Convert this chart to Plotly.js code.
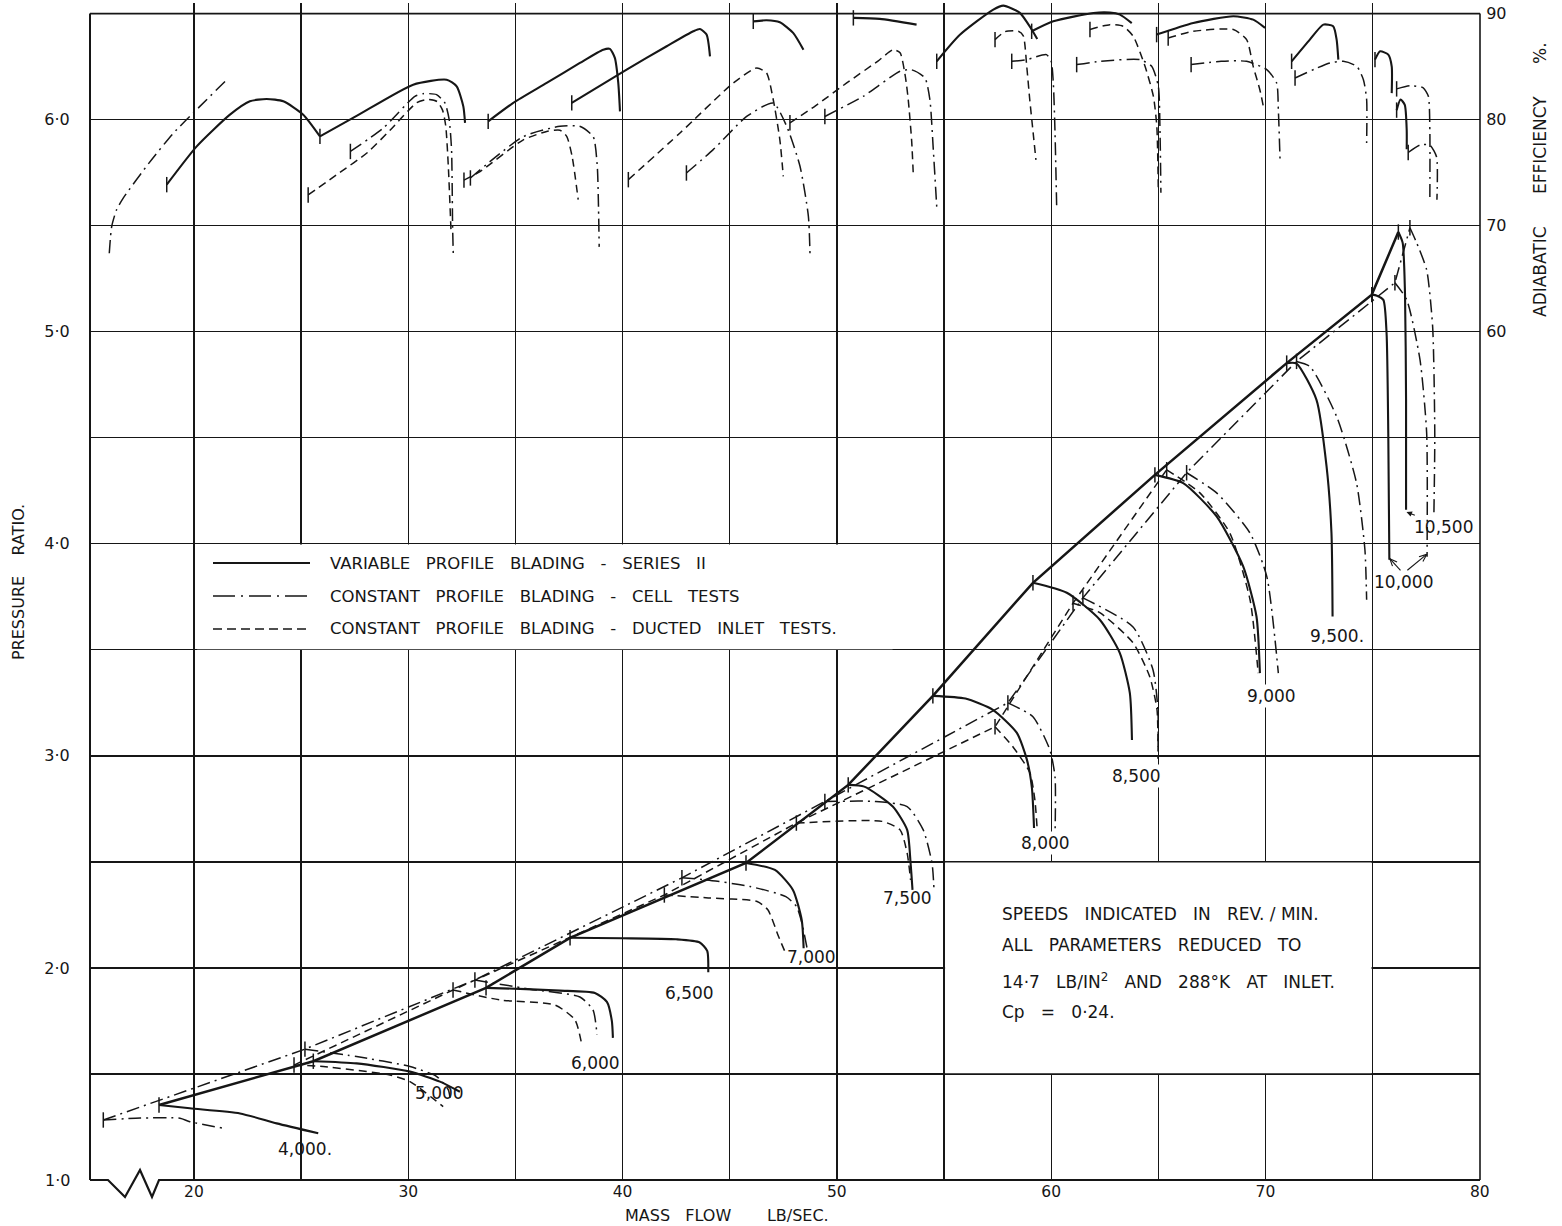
<!DOCTYPE html>
<html><head><meta charset="utf-8">
<script src="https://cdn.plot.ly/plotly-3.0.1.min.js"></script>
<style>html,body{margin:0;padding:0;background:#fff}#chart{width:1562px;height:1226px}</style>
</head><body><div id="chart"></div>
<script>
// ===== DATA: pressure-ratio lines [mass flow lb/sec, pressure ratio] =====
// Variable profile blading - Series II (solid)
const VP_SURGE = [[18.37,1.354],[25.57,1.56],[33.63,1.906],[37.55,2.142],[45.76,2.495],[50.53,2.863],[54.48,3.283],[59.15,3.816],[64.84,4.325],[70.99,4.852],[74.96,5.175],[76.2,5.47]];
const VP_PR_4000 = [[18.37,1.354],[19.81,1.338],[22.15,1.314],[23.86,1.267],[25.8,1.22]];
const VP_PR_5000 = [[25.57,1.56],[27.59,1.55],[30.08,1.511],[31.48,1.464],[32.41,1.416]];
const VP_PR_6000 = [[33.63,1.906],[35.5,1.9],[37.08,1.893],[38.71,1.882],[39.27,1.84],[39.5,1.75],[39.55,1.67]];
const VP_PR_6500 = [[37.55,2.142],[40.0,2.14],[42.5,2.135],[43.6,2.12],[43.95,2.08],[44.0,1.98]];
const VP_PR_7000 = [[45.76,2.495],[47.11,2.462],[47.95,2.368],[48.36,2.226],[48.45,2.093]];
const VP_PR_7500 = [[50.53,2.863],[51.28,2.855],[52.61,2.761],[53.28,2.651],[53.44,2.494],[53.53,2.368]];
const VP_PR_8000 = [[54.48,3.283],[56.0,3.27],[57.28,3.217],[58.4,3.108],[58.87,2.981],[59.1,2.85],[59.2,2.66]];
const VP_PR_8500 = [[59.15,3.816],[60.73,3.769],[62.27,3.642],[63.2,3.486],[63.67,3.297],[63.77,3.075]];
const VP_PR_9000 = [[64.84,4.325],[66.16,4.286],[67.72,4.129],[68.96,3.893],[69.58,3.657],[69.74,3.39]];
const VP_PR_9500 = [[70.99,4.852],[71.45,4.85],[72.38,4.679],[72.85,4.365],[73.08,4.05],[73.13,3.657]];
const VP_PR_10000 = [[74.96,5.175],[75.2,5.17],[75.5,5.15],[75.65,4.994],[75.73,4.52],[75.78,3.925]];
const VP_PR_10500 = [[76.2,5.47],[76.4,5.42],[76.51,5.183],[76.56,4.68],[76.56,4.16]];

// Constant profile blading - cell tests (dash-dot)
const CC_SURGE = [[15.77,1.283],[25.18,1.617],[33.11,1.943],[42.77,2.425],[49.44,2.785],[57.98,3.25],[61.48,3.745],[66.32,4.335],[71.45,4.86],[76.04,5.231],[76.74,5.49]];
const CC_PR_4000 = [[15.77,1.283],[17.5,1.292],[19.35,1.291],[19.81,1.275],[21.37,1.244]];
const CC_PR_5000 = [[25.18,1.617],[27.59,1.582],[30.08,1.535],[31.33,1.488],[31.87,1.425],[31.95,1.387]];
const CC_PR_6000 = [[33.11,1.943],[35.68,1.9],[38.01,1.863],[38.62,1.802],[38.81,1.684]];
const CC_PR_7000 = [[42.77,2.425],[43.94,2.415],[45.95,2.384],[47.62,2.336],[48.12,2.289],[48.37,2.211],[48.61,2.093]];
const CC_PR_7500 = [[49.44,2.785],[51.78,2.785],[53.28,2.761],[54.03,2.651],[54.44,2.494],[54.53,2.376]];
const CC_PR_8000 = [[57.98,3.25],[59.15,3.184],[59.94,3.028],[60.18,2.9],[60.18,2.627]];
const CC_PR_8500 = [[61.48,3.745],[63.82,3.608],[64.75,3.406],[64.98,3.217],[64.98,2.98]];
const CC_PR_9000 = [[66.32,4.335],[67.72,4.24],[69.28,4.05],[70.06,3.846],[70.6,3.39]];
const CC_PR_9500 = [[71.45,4.86],[72.07,4.836],[73.32,4.6],[74.25,4.286],[74.64,3.972],[74.72,3.736]];
const CC_PR_10000 = [[76.04,5.231],[76.59,5.151],[77.21,4.868],[77.52,4.524],[77.54,3.939]];
const CC_PR_10500 = [[76.74,5.49],[77.05,5.42],[77.52,5.292],[77.8,5.024],[77.9,4.52],[77.86,4.146]];

// Constant profile blading - ducted inlet tests (dashed)
const CD_SURGE = [[24.67,1.542],[32.09,1.896],[41.95,2.344],[48.11,2.683],[57.38,3.137],[61.02,3.72],[65.39,4.349]];
const CD_PR_5000 = [[24.67,1.542],[26.03,1.535],[29.15,1.495],[30.08,1.464],[31.63,1.346]];
const CD_PR_6000 = [[32.09,1.896],[34.28,1.849],[36.85,1.825],[37.78,1.755],[38.1,1.637]];
const CD_PR_7000 = [[41.95,2.344],[44.0,2.33],[46.28,2.313],[46.78,2.274],[47.28,2.148],[47.61,2.069]];
const CD_PR_7500 = [[48.11,2.683],[52.11,2.691],[52.95,2.651],[53.28,2.541],[53.44,2.415]];
const CD_PR_8000 = [[57.38,3.137],[58.22,3.042],[59.01,2.92],[59.24,2.792],[59.34,2.665]];
const CD_PR_8500 = [[61.02,3.72],[62.27,3.675],[63.82,3.533],[64.6,3.373],[64.94,3.217],[64.98,3.042]];
const CD_PR_9000 = [[65.39,4.349],[66.94,4.24],[68.34,4.05],[69.28,3.736],[69.66,3.39]];

// ===== DATA: adiabatic efficiency [mass flow lb/sec, efficiency %] =====
const VP_EF_4000 = [[18.73,73.87],[20.13,77.48],[21.68,80.47],[22.61,81.73],[23.39,81.95],[24.17,81.73],[25.1,80.47],[25.88,78.42]];
const VP_EF_5000 = [[25.88,78.42],[27.59,80.35],[30.23,83.3],[31.79,83.77],[32.26,83.14],[32.57,81.25],[32.65,79.7]];
const VP_EF_6000 = [[33.73,79.84],[34.9,81.58],[36.46,83.46],[38.01,85.35],[39.1,86.6],[39.41,86.67],[39.64,85.82],[39.8,83.46],[39.88,80.78]];
const VP_EF_6500 = [[37.63,81.58],[40.19,84.72],[42.06,86.92],[43.3,88.33],[43.61,88.55],[43.92,88.02],[44.08,85.97]];
const VP_EF_7000 = [[46.1,89.27],[46.72,89.37],[47.34,89.18],[47.96,88.18],[48.44,86.6]];
const VP_EF_7500 = [[50.77,89.6],[52.0,89.5],[53.72,88.96]];
const VP_EF_8000 = [[54.66,85.5],[55.74,88.0],[57.3,90.38],[57.77,90.75],[58.54,90.07],[59.09,88.5],[59.35,87.6]];
const VP_EF_8500 = [[59.09,88.33],[60.1,89.27],[61.97,90.06],[62.74,90.1],[63.21,89.9],[63.76,89.1]];
const VP_EF_9000 = [[64.92,88.02],[66.63,89.12],[68.5,89.75],[69.43,89.43],[69.98,88.65]];
const VP_EF_9500 = [[71.22,85.5],[72.07,87.55],[72.7,88.96],[73.16,88.8],[73.32,87.55],[73.4,85.66]];
const VP_EF_10000 = [[75.11,85.66],[75.35,86.44],[75.73,86.13],[75.89,85.03],[75.89,82.5]];
const VP_EF_10500 = [[76.12,80.9],[76.3,81.9],[76.5,81.4],[76.59,79.0],[76.59,77.2]];

const CC_EF_4000 = [[16.05,67.4],[16.16,69.9],[16.39,71.5],[16.7,72.6],[17.9,75.9],[19.03,78.7],[20.3,81.3],[21.45,83.6]];
const CC_EF_5000 = [[27.3,77.0],[28.83,79.2],[30.31,82.2],[30.7,82.45],[31.32,82.36],[31.71,81.57],[31.91,80.0],[32.02,77.17],[32.07,69.93],[32.1,67.4]];
const CC_EF_6000 = [[32.9,74.5],[35.37,78.4],[37.08,79.37],[38.0,79.37],[38.63,78.4],[38.82,75.6],[38.87,72.45],[38.91,68.0]];
const CC_EF_7000 = [[42.98,74.97],[44.23,77.17],[45.79,80.3],[47.03,81.57],[47.66,79.37],[48.28,75.6],[48.67,70.9],[48.75,67.1]];
const CC_EF_7500 = [[49.44,80.3],[51.23,82.2],[52.95,84.56],[53.49,84.7],[54.11,83.93],[54.34,81.9],[54.5,77.17],[54.66,71.8]];
const CC_EF_8000 = [[58.16,85.5],[58.86,85.66],[59.78,86.13],[60.0,85.5],[60.1,83.46],[60.18,78.74],[60.26,71.5]];
const CC_EF_8500 = [[61.19,85.19],[62.27,85.5],[64.14,85.66],[64.69,85.03],[65.0,83.14],[65.08,78.74],[65.12,73.1]];
const CC_EF_9000 = [[66.53,85.19],[67.93,85.5],[69.12,85.5],[70.06,84.72],[70.52,83.46],[70.6,80.94],[70.68,76.2]];
const CC_EF_9500 = [[71.38,83.93],[73.0,85.35],[73.63,85.5],[74.26,85.03],[74.57,83.77],[74.72,81.9],[74.72,77.8]];
const CC_EF_10000 = [[76.12,82.9],[76.74,83.2],[77.36,83.0],[77.6,82.2],[77.67,79.0],[77.67,72.45]];
const CC_EF_10500 = [[76.66,76.9],[77.21,77.6],[77.67,77.6],[77.98,76.5],[78.0,72.45]];

const CD_EF_5000 = [[25.33,72.9],[26.8,75.0],[28.1,76.9],[29.15,79.0],[30.4,81.6],[30.9,81.9],[31.35,81.7],[31.6,80.9],[31.75,79.4],[31.87,75.6],[32.0,69.3]];
const CD_EF_6000 = [[32.6,74.3],[33.35,75.1],[35.37,78.1],[36.5,78.9],[37.08,79.0],[37.4,78.4],[37.65,76.5],[37.93,72.45]];
const CD_EF_7000 = [[40.27,74.34],[42.68,78.74],[45.17,83.46],[46.26,84.88],[46.72,84.4],[47.03,81.9],[47.34,78.1],[47.5,74.65]];
const CD_EF_7500 = [[47.81,79.7],[49.0,81.3],[50.46,83.46],[51.9,85.5],[52.63,86.6],[52.95,86.3],[53.2,84.0],[53.33,81.9],[53.49,78.0],[53.57,74.65]];
const CD_EF_8000 = [[57.38,87.55],[57.85,88.3],[58.47,88.33],[58.7,87.9],[58.86,85.03],[59.0,81.9],[59.16,78.74],[59.29,76.2]];
const CD_EF_8500 = [[61.81,88.5],[62.74,88.96],[63.36,88.8],[63.83,87.86],[64.38,85.03],[64.77,82.2],[64.93,79.37],[65.0,73.4]];
const CD_EF_9000 = [[65.46,87.7],[66.63,88.33],[68.5,88.5],[69.12,87.55],[69.43,85.0],[69.74,82.8],[69.9,81.25]];

// ===== labels / ticks =====
const SPEED_TEXT = ['4,000.','5,000','6,000','6,500','7,000','7,500','8,000','8,500','9,000','9,500.','10,000'];
const SPEED_X = [25.18,31.48,38.76,43.14,48.83,53.31,59.75,64.0,70.3,73.33,76.45];
const SPEED_Y = [1.146,1.41,1.552,1.882,2.052,2.33,2.59,2.906,3.28,3.566,3.82];
const SPEED_BG = [false,false,false,false,false,false,true,true,true,false,false];
// 10,000 label arrows: [tail x, tail y, head x, head y]
const ARROWS_10000 = [[76.3,3.875,75.8,3.93],[76.62,3.875,77.52,3.95]];
const X_TICKS = [20,25,30,35,40,45,50,55,60,65,70,75,80];
const X_TICK_TEXT = ['20','','30','','40','','50','','60','','70','','80'];
const Y_TICKS = [1.5,2,2.5,3,3.5,4,4.5,5,5.5,6,6.5];
const Y_TICK_TEXT = ['','2·0','','3·0','','4·0','','5·0','','6·0',''];
const EFF_TICKS = [60,70,80,90];
const NB = '\u00a0';
const sp = n => NB.repeat(n);
const X_TITLE = `MASS${sp(2)} FLOW${sp(6)} LB/SEC.`;
const Y_TITLE = `PRESSURE${sp(3)} RATIO.`;
const Y2_TITLE = `ADIABATIC${sp(5)} EFFICIENCY${sp(5)} %.`;
const LEGEND_TEXT = [`VARIABLE${sp(2)} PROFILE${sp(2)} BLADING${sp(2)} -${sp(2)} SERIES${sp(2)} II`,
  `CONSTANT${sp(2)} PROFILE${sp(2)} BLADING${sp(2)} -${sp(2)} CELL${sp(2)} TESTS`,
  `CONSTANT${sp(2)} PROFILE${sp(2)} BLADING${sp(2)} -${sp(2)} DUCTED${sp(2)} INLET${sp(2)} TESTS.`];
const NOTE_TEXT = [`SPEEDS${sp(2)} INDICATED${sp(2)} IN${sp(2)} REV. / MIN.`,
  `ALL${sp(2)} PARAMETERS${sp(2)} REDUCED${sp(2)} TO`,
  `14·7${sp(2)} LB/IN<sup>2</sup>${sp(2)} AND${sp(2)} 288°K${sp(2)} AT${sp(2)} INLET.`,
  `Cp${sp(2)} =${sp(2)} 0·24.`];

// ===== styles =====
const INK = '#161616';
const STY = {
  vp: {color: INK, width: 2.1, dash: 'solid'},
  cc: {color: INK, width: 1.5, dash: '13px,5px,2px,5px'},
  cd: {color: INK, width: 1.5, dash: '8px,5px'}
};

function curve(pts, st, axis, tick) {
  return {
    type: 'scatter', mode: tick ? 'lines+markers' : 'lines',
    x: pts.map(p => p[0]), y: pts.map(p => p[1]), yaxis: axis,
    line: {color: st.color, width: st.width, dash: st.dash, shape: 'spline', smoothing: 0.6},
    marker: {symbol: 'line-ns', size: 11, opacity: pts.map((p, i) => i === 0 ? 1 : 0),
             line: {color: st.color, width: 1.5}},
    hoverinfo: 'skip', showlegend: false
  };
}
function surge(pts, st, w) {
  return {type: 'scatter', mode: 'lines', x: pts.map(p => p[0]), y: pts.map(p => p[1]), yaxis: 'y',
    line: {color: st.color, width: w, dash: st.dash}, hoverinfo: 'skip', showlegend: false};
}

const traces = [
  surge(VP_SURGE, STY.vp, 2.5), surge(CC_SURGE, STY.cc, 1.5), surge(CD_SURGE, STY.cd, 1.5)
];
[VP_PR_4000,VP_PR_5000,VP_PR_6000,VP_PR_6500,VP_PR_7000,VP_PR_7500,VP_PR_8000,VP_PR_8500,VP_PR_9000,VP_PR_9500,VP_PR_10000,VP_PR_10500]
  .forEach(c => traces.push(curve(c, STY.vp, 'y', true)));
[CC_PR_4000,CC_PR_5000,CC_PR_6000,CC_PR_7000,CC_PR_7500,CC_PR_8000,CC_PR_8500,CC_PR_9000,CC_PR_9500,CC_PR_10000,CC_PR_10500]
  .forEach(c => traces.push(curve(c, STY.cc, 'y', true)));
[CD_PR_5000,CD_PR_6000,CD_PR_7000,CD_PR_7500,CD_PR_8000,CD_PR_8500,CD_PR_9000]
  .forEach(c => traces.push(curve(c, STY.cd, 'y', true)));
[VP_EF_4000,VP_EF_5000,VP_EF_6000,VP_EF_6500,VP_EF_7000,VP_EF_7500,VP_EF_8000,VP_EF_8500,VP_EF_9000,VP_EF_9500,VP_EF_10000,VP_EF_10500]
  .forEach(c => traces.push(curve(c, STY.vp, 'y2', true)));
[CC_EF_4000,CC_EF_5000,CC_EF_6000,CC_EF_7000,CC_EF_7500,CC_EF_8000,CC_EF_8500,CC_EF_9000,CC_EF_9500,CC_EF_10000,CC_EF_10500]
  .forEach((c, i) => traces.push(curve(c, STY.cc, 'y2', i > 0)));
[CD_EF_5000,CD_EF_6000,CD_EF_7000,CD_EF_7500,CD_EF_8000,CD_EF_8500,CD_EF_9000]
  .forEach(c => traces.push(curve(c, STY.cd, 'y2', true)));

// ===== layout helpers (pixel -> paper) =====
const PL = 90, PR = 1480, PB = 1180, PH = 1177;
const XR = [15.15, 80.01], YR = [1, 6.55];
const px = v => (v - PL) / (PR - PL);
const py = v => (PB - v) / PH;
const XPX = (PR - PL) / (XR[1] - XR[0]);
const YPX = PH / (YR[1] - YR[0]);

function arrowShapes(a) {
  const [tx, ty, hx, hy] = a;
  const out = [{type: 'line', xref: 'x', yref: 'y', x0: tx, y0: ty, x1: hx, y1: hy, line: {color: INK, width: 1.1}}];
  const dxp = (hx - tx) * XPX, dyp = (hy - ty) * YPX;
  const L = Math.hypot(dxp, dyp), ux = dxp / L, uy = dyp / L, len = 8, ang = 0.4;
  [ang, -ang].forEach(s => {
    const bx = -(ux * Math.cos(s) - uy * Math.sin(s)) * len;
    const by = -(ux * Math.sin(s) + uy * Math.cos(s)) * len;
    out.push({type: 'line', xref: 'x', yref: 'y', x0: hx, y0: hy, x1: hx + bx / XPX, y1: hy + by / YPX,
      line: {color: INK, width: 1.1}});
  });
  return out;
}

const shapes = [
  {type: 'rect', xref: 'x', yref: 'y', x0: 20.15, x1: 52.6, y0: 3.503, y1: 3.997, fillcolor: '#fff', line: {width: 0}, layer: 'between'},
  {type: 'rect', xref: 'x', yref: 'y', x0: 55.05, x1: 74.95, y0: 1.503, y1: 2.497, fillcolor: '#fff', line: {width: 0}, layer: 'between'},
  {type: 'line', xref: 'paper', yref: 'y', x0: 0, x1: 0, y0: 1, y1: 6.5, line: {color: INK, width: 2}},
  {type: 'line', xref: 'paper', yref: 'y', x0: 0, x1: 1, y0: 6.5, y1: 6.5, line: {color: INK, width: 1.6}},
  {type: 'line', xref: 'paper', yref: 'y', x0: 1, x1: 1, y0: 1, y1: 6.5, line: {color: INK, width: 1.6}},
  {type: 'path', xref: 'paper', yref: 'paper',
   path: `M 0 0 L ${px(108)} 0 L ${px(125)} ${py(1197)} L ${px(140)} ${py(1170)} L ${px(152)} ${py(1197)} L ${px(159)} 0 L 1 0`,
   line: {color: INK, width: 2.2}},
  {type: 'line', xref: 'paper', yref: 'paper', x0: px(213), x1: px(310), y0: py(563), y1: py(563), line: {color: INK, width: 2}},
  {type: 'line', xref: 'paper', yref: 'paper', x0: px(213), x1: px(310), y0: py(596), y1: py(596), line: {color: INK, width: 1.5, dash: '22px,6px,2px,6px'}},
  {type: 'line', xref: 'paper', yref: 'paper', x0: px(213), x1: px(310), y0: py(629), y1: py(629), line: {color: INK, width: 1.5, dash: '9px,5px'}}
];
ARROWS_10000.forEach(a => arrowShapes(a).forEach(s => shapes.push(s)));

const annotations = [];
SPEED_TEXT.forEach((t, i) => annotations.push({
  text: t, x: SPEED_X[i], y: SPEED_Y[i], xref: 'x', yref: 'y', showarrow: false,
  xanchor: 'center', yanchor: 'middle',
  font: {size: 17}, bgcolor: SPEED_BG[i] ? '#fff' : 'rgba(0,0,0,0)', borderpad: 1
}));
annotations.push({text: '10,500', x: 76.58, y: 4.15, ax: 78.3, ay: 4.08, axref: 'x', ayref: 'y', xref: 'x', yref: 'y',
  showarrow: true, arrowhead: 2, arrowsize: 1, arrowwidth: 1.1, arrowcolor: INK, font: {size: 17}});
LEGEND_TEXT.forEach((t, i) => annotations.push({
  text: t, xref: 'paper', yref: 'paper', x: px(328), y: py([563, 596, 629][i]), xanchor: 'left', yanchor: 'middle',
  showarrow: false, font: {size: 16.5}
}));
NOTE_TEXT.forEach((t, i) => annotations.push({
  text: t, xref: 'paper', yref: 'paper', x: px(1000), y: py([914, 945, 981, 1012][i]), xanchor: 'left', yanchor: 'middle',
  showarrow: false, font: {size: 17}
}));
annotations.push({text: Y_TITLE, xref: 'paper', yref: 'paper', x: px(18), y: py(582), textangle: -90,
  xanchor: 'center', yanchor: 'middle', showarrow: false, font: {size: 16}});
annotations.push({text: X_TITLE, xref: 'paper', yref: 'paper', x: px(727), y: py(1215),
  xanchor: 'center', yanchor: 'middle', showarrow: false, font: {size: 16}, borderpad: 0});
annotations.push({text: Y2_TITLE, xref: 'paper', yref: 'paper', x: px(1540), y: py(180), textangle: -90,
  xanchor: 'center', yanchor: 'middle', showarrow: false, font: {size: 17}});
annotations.push({text: '1·0', xref: 'paper', yref: 'y', x: 0, y: 1.0, xanchor: 'right', yanchor: 'middle', xshift: -18,
  showarrow: false, font: {size: 16}});

const layout = {
  width: 1562, height: 1226,
  margin: {l: 90, r: 82, t: 3, b: 46, pad: 0},
  paper_bgcolor: '#fff', plot_bgcolor: '#fff',
  font: {family: 'DejaVu Sans, sans-serif', color: INK, size: 16},
  showlegend: false,
  xaxis: {range: XR, tickmode: 'array', tickvals: X_TICKS, ticktext: X_TICK_TEXT,
    showgrid: true, gridcolor: INK, gridwidth: 1.3, zeroline: false, showline: false,
    ticks: '', tickfont: {size: 15.5}, fixedrange: true},
  yaxis: {range: YR, tickmode: 'array', tickvals: Y_TICKS, ticktext: Y_TICK_TEXT,
    showgrid: true, gridcolor: INK, gridwidth: 1.3, zeroline: false, showline: false,
    ticks: 'outside', ticklen: 16, tickcolor: 'rgba(0,0,0,0)', tickfont: {size: 16}, fixedrange: true},
  yaxis2: {overlaying: 'y', side: 'right', range: [-20, 91], tickmode: 'array', tickvals: EFF_TICKS,
    ticktext: EFF_TICKS.map(String), showgrid: false, zeroline: false, showline: false,
    ticks: 'outside', ticklen: 2, tickcolor: 'rgba(0,0,0,0)', tickfont: {size: 16}, fixedrange: true},
  shapes: shapes,
  annotations: annotations
};

Plotly.newPlot('chart', traces, layout, {displayModeBar: false, staticPlot: true});
</script>
</body></html>
